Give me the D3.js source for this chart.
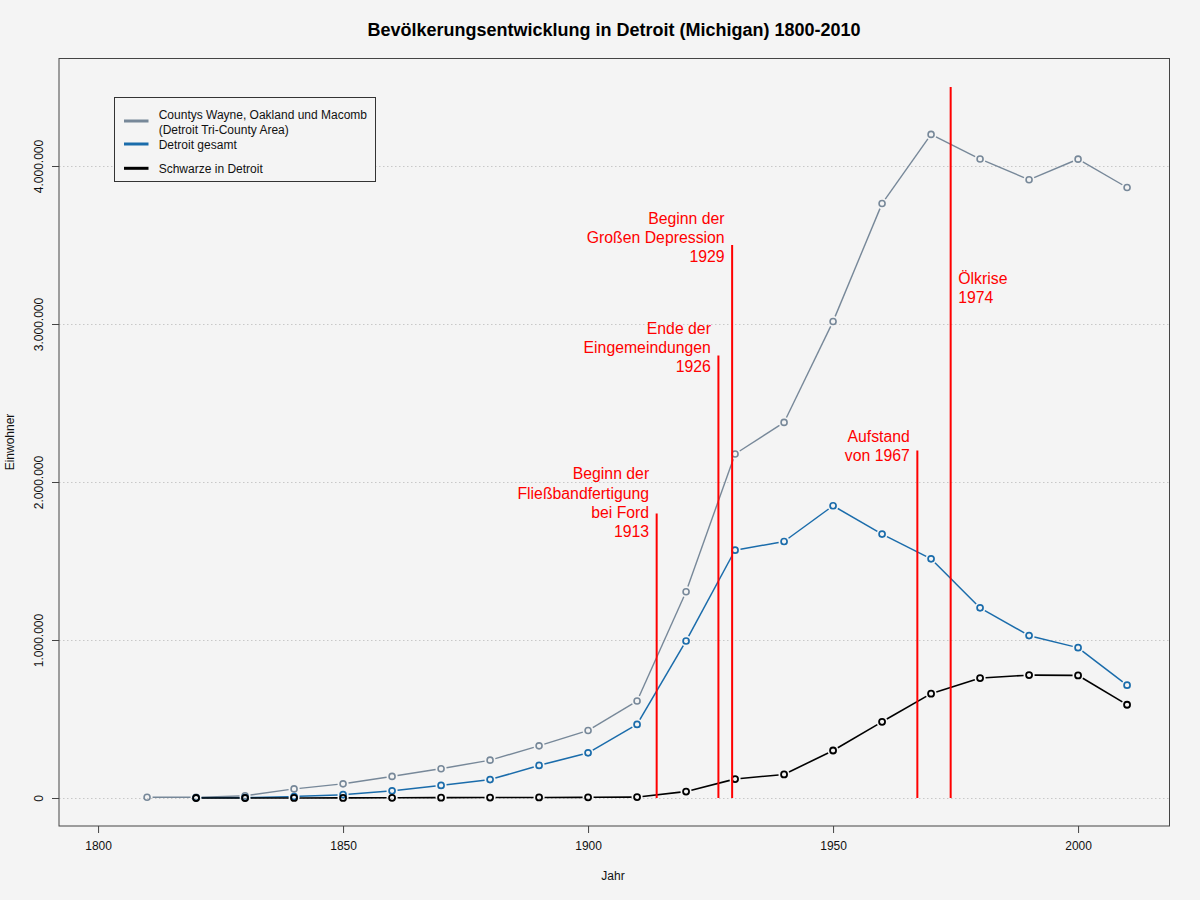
<!DOCTYPE html>
<html><head><meta charset="utf-8">
<script src="https://cdn.jsdelivr.net/npm/d3@7"></script>
<style>
html,body{margin:0;padding:0;background:#f4f4f4;}
svg{display:block;font-family:"Liberation Sans",Arial,Helvetica,sans-serif;}
</style></head>
<body>
<svg id="chart" width="1200" height="900"></svg>
<script>
// ---- data ----
const triYears = [1810,1820,1830,1840,1850,1860,1870,1880,1890,1900,1910,1920,1930,1940,1950,1960,1970,1980,1990,2000,2010];
const triCounty = [4762,4802,14105,57535,89556,136651,185421,239608,330172,426829,613773,1305798,2177343,2377329,3016197,3762360,4199931,4044284,3912679,4043467,3863924];
const detroitYears = [1820,1830,1840,1850,1860,1870,1880,1890,1900,1910,1920,1930,1940,1950,1960,1970,1980,1990,2000,2010];
const detroitTotal = [1422,2222,9102,21019,45619,79577,116340,205876,285704,465766,993678,1568662,1623452,1849568,1670144,1514063,1203339,1027974,951270,713777];
const blackPop = [67,126,193,587,1403,2235,2821,3431,4111,5741,40838,120066,149119,300506,482223,660428,758939,777916,775772,590226];

const seriesNames = ["Countys Wayne, Oakland und Macomb\n(Detroit Tri-County Area)","Detroit gesamt","Schwarze in Detroit"];
const seriesColors = ["#778899","#1a6cab","#000000"];

const eventX = [1914.0, 1926.6, 1929.4, 1967.2, 1974.0];
const eventTop = [1800000, 2800000, 3500000, 2200000, 4500000];
const eventLabelY = [1870000, 2850000, 3546000, 2229000, 3228000];
const eventSide = ["left","left","left","left","right"];
const eventLabels = [
  ["Beginn der","Fließbandfertigung","bei Ford","1913"],
  ["Ende der","Eingemeindungen","1926"],
  ["Beginn der","Großen Depression","1929"],
  ["Aufstand","von 1967"],
  ["Ölkrise","1974"]
];
const xTicks = [1800,1850,1900,1950,2000];
const yTicks = [0,1000000,2000000,3000000,4000000];
const title = "Bevölkerungsentwicklung in Detroit (Michigan) 1800-2010";

// ---- layout ----
const svg = d3.select("#chart");
const W = 1200, H = 900;
const plot = {left:59, right:1169.5, top:58.5, bottom:826};
svg.append("rect").attr("width",W).attr("height",H).attr("fill","#f4f4f4");

const x = d3.scaleLinear().domain([1800,2000]).range([98.07,1078.07]);
const y = d3.scaleLinear().domain([0,4000000]).range([798,166]);
const fmt = v => d3.format(",")(v).replace(/,/g,".");

// grid
svg.append("g").selectAll("line").data(yTicks).join("line")
  .attr("x1",plot.left).attr("x2",plot.right)
  .attr("y1",d=>Math.round(y(d))+0.5).attr("y2",d=>Math.round(y(d))+0.5)
  .attr("stroke","#c8c8c8").attr("stroke-width",1).attr("stroke-dasharray","1.5,2.5");

// series
function drawSeries(xs, vs, color, sw){
  const pts = xs.map((d,i)=>[x(d), y(vs[i])]);
  const g = svg.append("g");
  const gap = 5.5;
  for(let i=0;i<pts.length-1;i++){
    const [x1,y1]=pts[i],[x2,y2]=pts[i+1];
    const dx=x2-x1, dy=y2-y1, L=Math.hypot(dx,dy);
    if(L<=2*gap) continue;
    const ux=dx/L, uy=dy/L;
    g.append("line").attr("x1",x1+ux*gap).attr("y1",y1+uy*gap)
      .attr("x2",x2-ux*gap).attr("y2",y2-uy*gap)
      .attr("stroke",color).attr("stroke-width",sw);
  }
  g.selectAll("circle").data(pts).join("circle")
    .attr("cx",d=>d[0]).attr("cy",d=>d[1]).attr("r",3)
    .attr("fill","none").attr("stroke",color).attr("stroke-width",sw+0.2);
}
drawSeries(triYears, triCounty, seriesColors[0], 1.4);
drawSeries(detroitYears, detroitTotal, seriesColors[1], 1.5);
drawSeries(detroitYears, blackPop, seriesColors[2], 1.6);

// events
const ev = svg.append("g");
eventX.forEach((ex,i)=>{
  const px = x(ex);
  ev.append("line").attr("x1",px).attr("x2",px).attr("y1",y(0)).attr("y2",y(eventTop[i]))
    .attr("stroke","#ff0000").attr("stroke-width",2);
  const lines = eventLabels[i];
  const lh = 19.1;
  const cy = y(eventLabelY[i]);
  const left = eventSide[i]==="left";
  const t = ev.append("text").attr("fill","#ff0000").attr("font-size",15.8)
    .attr("text-anchor", left?"end":"start");
  lines.forEach((s,j)=>{
    t.append("tspan").attr("x", left? px-7.5 : px+7.6)
      .attr("y", cy + (j-(lines.length-1)/2)*lh).attr("dy","0.35em").text(s);
  });
});

// plot box
svg.append("rect").attr("x",plot.left).attr("y",plot.top)
  .attr("width",plot.right-plot.left).attr("height",plot.bottom-plot.top)
  .attr("fill","none").attr("stroke","#444").attr("stroke-width",1);

// axes
const xAxis = svg.append("g").attr("transform",`translate(0,${plot.bottom})`)
  .call(d3.axisBottom(x).tickValues(xTicks).tickSize(7).tickPadding(8).tickFormat(d3.format("d")));
xAxis.select(".domain").remove();
xAxis.selectAll("text").attr("font-size",12).attr("fill","#111").attr("font-family","Liberation Sans, Arial, sans-serif");
xAxis.selectAll("line").attr("stroke","#444");

const yAxis = svg.append("g").attr("transform",`translate(${plot.left},0)`)
  .call(d3.axisLeft(y).tickValues(yTicks).tickSize(7).tickFormat(fmt));
yAxis.select(".domain").remove();
yAxis.selectAll("line").attr("stroke","#444");
yAxis.selectAll("text").attr("font-size",12).attr("fill","#111")
  .attr("font-family","Liberation Sans, Arial, sans-serif")
  .attr("text-anchor","middle").attr("dy","0.35em")
  .attr("x",null)
  .attr("transform",function(d){ return `translate(${38.5-plot.left},0) rotate(-90)`; });

// titles
svg.append("text").attr("x",614).attr("y",30).attr("dy","0.35em").attr("text-anchor","middle")
  .attr("font-size",18).attr("font-weight","bold").attr("fill","#000").text(title);
svg.append("text").attr("x",613).attr("y",876).attr("dy","0.35em").attr("text-anchor","middle")
  .attr("font-size",12).attr("fill","#111").text("Jahr");
svg.append("text").attr("transform","translate(9.5,442) rotate(-90)").attr("dy","0.35em")
  .attr("text-anchor","middle").attr("font-size",12).attr("fill","#111").text("Einwohner");

// legend
const lg = svg.append("g");
lg.append("rect").attr("x",114.5).attr("y",97.5).attr("width",261).attr("height",84)
  .attr("fill","#f4f4f4").attr("stroke","#333").attr("stroke-width",1);
const legY = [121, 144, 168.3];
const legTextY = [[114.3,129.3],[144.3],[168.3]];
seriesNames.forEach((n,i)=>{
  lg.append("line").attr("x1",124).attr("x2",148.5).attr("y1",legY[i]).attr("y2",legY[i])
    .attr("stroke",seriesColors[i]).attr("stroke-width",3);
  n.split("\n").forEach((s,j)=>{
    lg.append("text").attr("x",158.7).attr("y",legTextY[i][j]).attr("dy","0.35em")
      .attr("font-size",12).attr("fill","#111").text(s);
  });
});
</script>
</body></html>
